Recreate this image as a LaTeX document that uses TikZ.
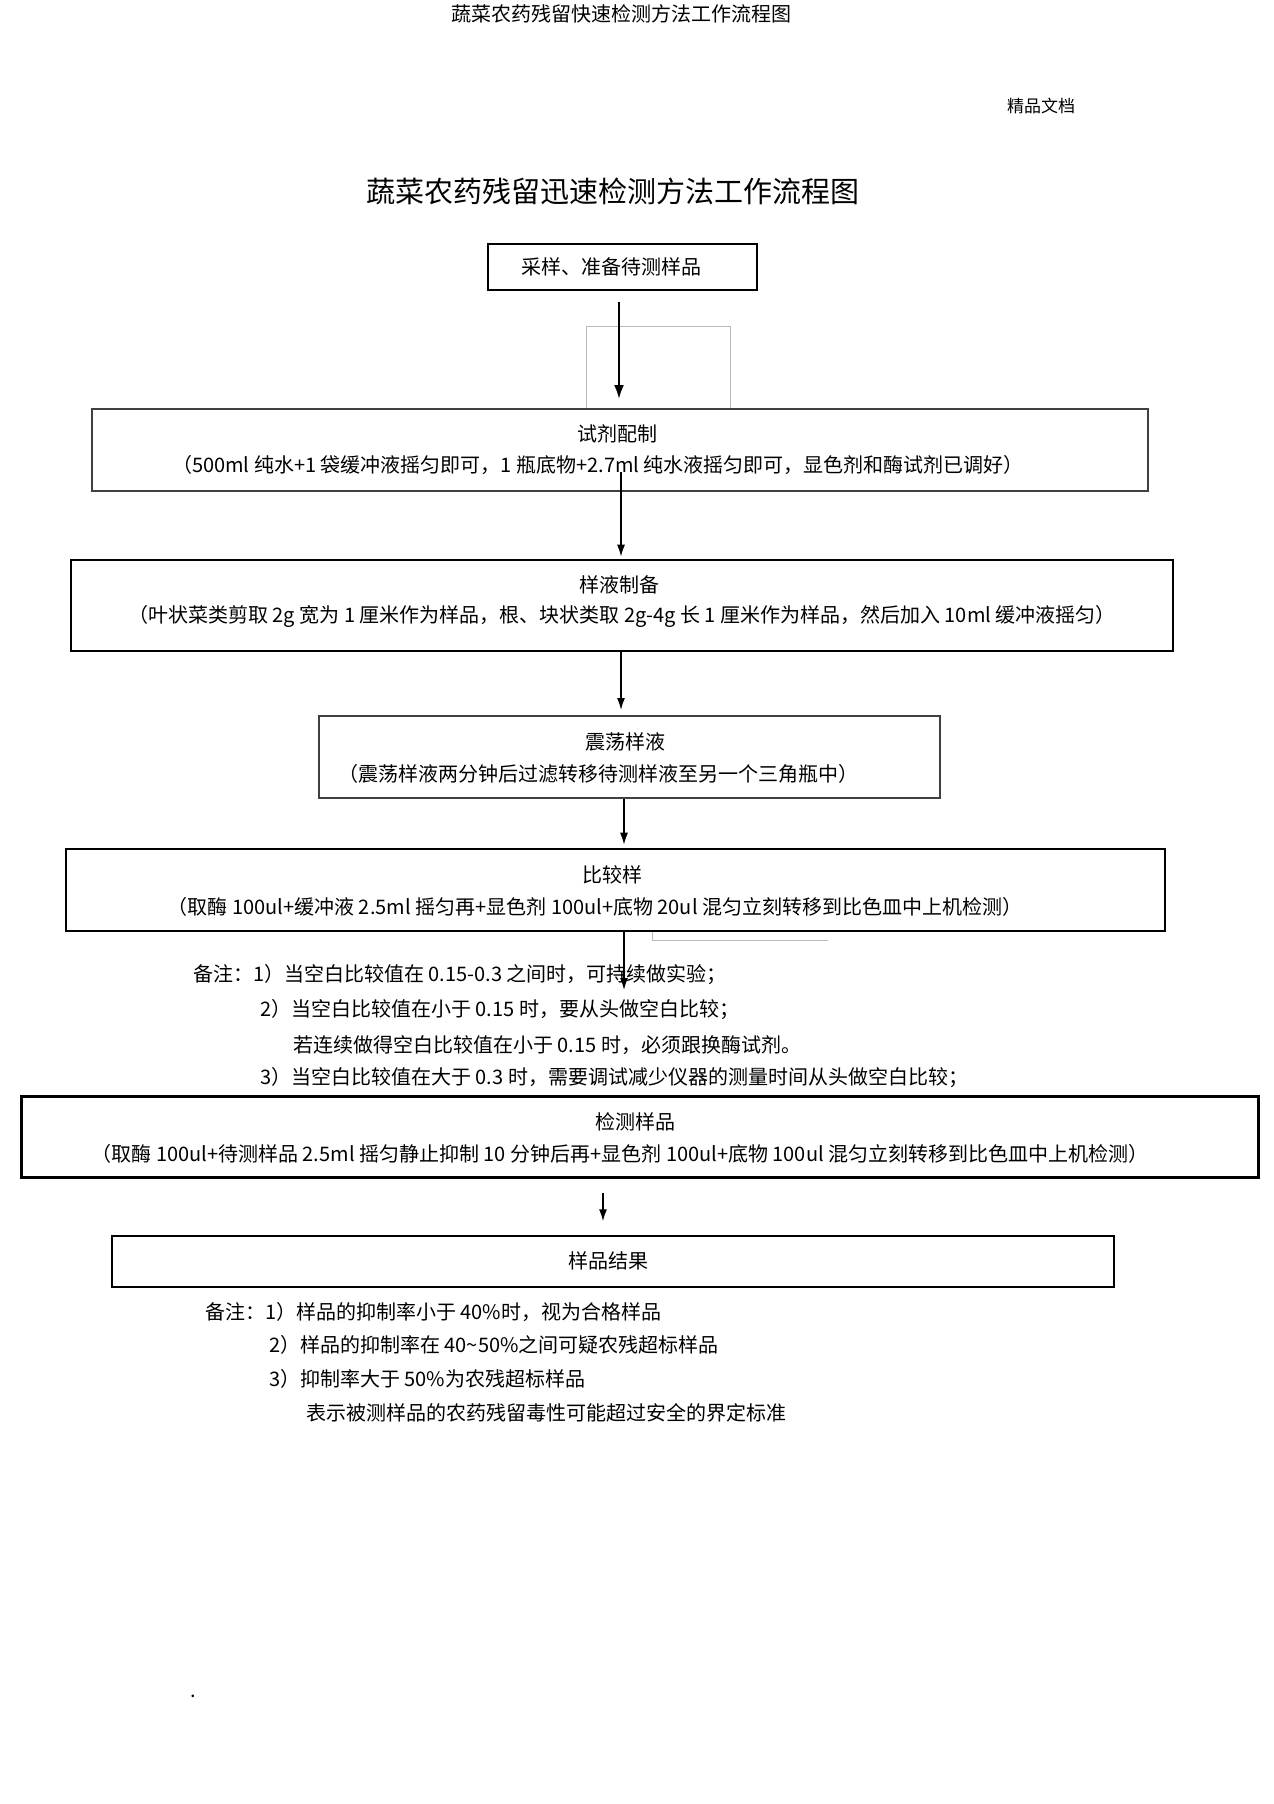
\documentclass[tikz,border=0pt]{standalone}
\usepackage{fontspec}
\setmainfont{Noto Sans CJK SC}
\usetikzlibrary{arrows.meta}

\def\bodysize{\fontsize{20}{24}\selectfont}
\def\titlesize{\fontsize{29}{34}\selectfont}

\begin{document}
\begin{tikzpicture}[x=1pt,y=-1pt,
	box/.style={draw, line width=1.4pt, inner sep=0pt},
	thickbox/.style={box, line width=2.6pt},
	txt/.style={font=\bodysize, inner sep=0pt},
	note/.style={txt, anchor=west},
	flow/.style={-{Latex[length=12pt,width=8pt]}, line width=1.5pt},
	stray/.style={draw=gray!55, line width=0.8pt}]

	\useasboundingbox (0,0) rectangle (1274,1804);

	% page header and title
	\node[font=\fontsize{20}{24}\selectfont] (header) at (621,14) {蔬菜农药残留快速检测方法工作流程图};
	\node[font=\fontsize{17}{20}\selectfont] (mark) at (1041,106) {精品文档};
	\node[font=\titlesize] (title) at (613,191) {蔬菜农药残留迅速检测方法工作流程图};

	% boxes
	\node[box, minimum width=269pt, minimum height=46pt] (sample) at (622.5,267) {};
	\node[box, draw=black!75, line width=1.9pt, minimum width=1056pt, minimum height=82pt] (reagent) at (620,450) {};
	\node[thickbox, minimum width=1102pt, minimum height=91pt] (liquid) at (622,605.5) {};
	\node[box, draw=black!75, line width=2pt, minimum width=621pt, minimum height=82pt] (shake) at (629.5,757) {};
	\node[thickbox, minimum width=1099pt, minimum height=82pt] (compare) at (615.5,890) {};
	\node[thickbox, line width=3pt, minimum width=1237pt, minimum height=81pt] (detect) at (639.5,1136.5) {};
	\node[box, minimum width=1002pt, minimum height=51pt] (result) at (613,1261.5) {};

	% box texts
	\node[txt] (sampletxt) at (611,267) {采样、准备待测样品};
	\node[txt] (reagenttop) at (617,434) {试剂配制};
	\node[txt] (reagentsub) at (598,465) {（500ml 纯水+1 袋缓冲液摇匀即可，1 瓶底物+2.7ml 纯水液摇匀即可，显色剂和酶试剂已调好）};
	\node[txt] (liquidtop) at (619,585) {样液制备};
	\node[txt] (liquidsub) at (622,616) {（叶状菜类剪取 2g 宽为 1 厘米作为样品，根、块状类取 2g-4g 长 1 厘米作为样品，然后加入 10ml 缓冲液摇匀）};
	\node[txt] (shaketop) at (625,742) {震荡样液};
	\node[txt] (shakesub) at (598,774) {（震荡样液两分钟后过滤转移待测样液至另一个三角瓶中）};
	\node[txt] (comparetop) at (612,875) {比较样};
	\node[txt] (comparesub) at (595,907) {（取酶 100ul+缓冲液 2.5ml 摇匀再+显色剂 100ul+底物 20ul 混匀立刻转移到比色皿中上机检测）};
	\node[txt] (detecttop) at (635,1122) {检测样品};
	\node[txt] (detectsub) at (620,1154) {（取酶 100ul+待测样品 2.5ml 摇匀静止抑制 10 分钟后再+显色剂 100ul+底物 100ul 混匀立刻转移到比色皿中上机检测）};
	\node[txt] (resulttxt) at (608,1261) {样品结果};

	% notes
	\node[note] (blank1) at (193,975) {备注：1）当空白比较值在 0.15-0.3 之间时，可持续做实验；};
	\node[note] (blank2) at (260,1010) {2）当空白比较值在小于 0.15 时，要从头做空白比较；};
	\node[note] (blank2b) at (293,1045) {若连续做得空白比较值在小于 0.15 时，必须跟换酶试剂。};
	\node[note] (blank3) at (260,1078) {3）当空白比较值在大于 0.3 时，需要调试减少仪器的测量时间从头做空白比较；};
	\node[note] (rate1) at (205,1312) {备注：1）样品的抑制率小于 40\%时，视为合格样品};
	\node[note] (rate2) at (269,1345) {2）样品的抑制率在 40\textasciitilde50\%之间可疑农残超标样品};
	\node[note] (rate3) at (269,1379) {3）抑制率大于 50\%为农残超标样品};
	\node[note] (rate3b) at (306,1413) {表示被测样品的农药残留毒性可能超过安全的界定标准};
	\node[txt] (dot) at (193,1696) {.};

	% stray frame lines
	\draw[stray] (586,408) -- (586,326) -- (730,326) -- (730,408);
	\draw[stray] (652,932) -- (652,940) -- (828,940);

	% arrows
	\coordinate (noteend) at (624,990);
	\draw[flow, line width=2.4pt, -{Latex[length=14pt,width=10pt]}] ([xshift=-3.5pt,yshift=-11pt]sample.south) -- ([xshift=-1pt,yshift=9pt]reagent.north);
	\draw[flow] ([xshift=1pt,yshift=-22pt]reagent.center) -- ([xshift=-1pt,yshift=2pt]liquid.north);
	\draw[flow] ([xshift=-1pt]liquid.south) -- ([xshift=-8.5pt,yshift=5pt]shake.north);
	\draw[flow] ([xshift=-5.5pt]shake.south) -- ([xshift=8.5pt,yshift=3pt]compare.north);
	\draw[flow] ([xshift=8.5pt]compare.south) -- (noteend);
	\draw[flow] ([xshift=-36.5pt,yshift=-14pt]detect.south) -- ([xshift=-10pt,yshift=14pt]result.north);

\end{tikzpicture}
\end{document}
